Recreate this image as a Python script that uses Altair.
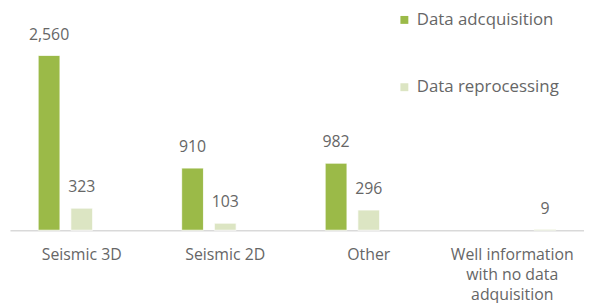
import altair as alt
import pandas as pd

categories = ["Seismic 3D", "Seismic 2D", "Other", "Well information\nwith no data\nadquisition"]
series_names = ["Data adcquisition", "Data reprocessing", "Well only"]
acquisition = [2560, 910, 982, None]
reprocessing = [323, 103, 296, None]
well_only = [None, None, None, 9]
colors = ["#9BBA48", "#DCE5C3", "#9BBA48"]

rows = []
for i, c in enumerate(categories):
    for s, vals in zip(series_names, [acquisition, reprocessing, well_only]):
        if vals[i] is not None:
            rows.append({"category": c, "series": s, "value": vals[i]})
df = pd.DataFrame(rows)

FONT = "Open Sans"
GRAY = "#666666"

x_enc = alt.X("category:N", sort=categories, title=None,
              scale=alt.Scale(paddingInner=0.317, paddingOuter=0.1585),
              axis=alt.Axis(domainColor="#D9D9D9", domainWidth=1.5, ticks=False,
                            labelAngle=0, labelFont=FONT, labelFontSize=16,
                            labelColor=GRAY, labelPadding=17, labelLineHeight=20,
                            labelExpr="split(datum.label, '\\n')"))
xo_enc = alt.XOffset("series:N", sort=series_names,
                     scale=alt.Scale(domain=series_names, paddingInner=0.333, paddingOuter=0.1665))
y_enc = alt.Y("value:Q", scale=alt.Scale(domain=[0, 3000]), axis=None)

bars = alt.Chart(df).mark_bar(stroke="white", strokeWidth=0.8).encode(
    x=x_enc, xOffset=xo_enc, y=y_enc,
    color=alt.Color("series:N", sort=series_names,
                    scale=alt.Scale(domain=series_names, range=colors),
                    legend=alt.Legend(title=None, orient="none", legendX=390, legendY=-14,
                                      values=["Data adcquisition", "Data reprocessing"],
                                      symbolType="square", symbolSize=64, symbolStrokeWidth=0,
                                      labelFont=FONT, labelFontSize=17,
                                      labelColor=GRAY,
                                      labelOffset=4, rowPadding=50, direction="vertical")),
)

labels = alt.Chart(df).mark_text(dy=-16, baseline="alphabetic", font=FONT, fontSize=16,
                                 color=GRAY).encode(
    x=x_enc, xOffset=xo_enc, y=y_enc,
    text=alt.Text("value:Q", format=","),
)

chart = (bars + labels).properties(
    width=580, height=207,
    autosize=alt.AutoSizeParams(type="none"),
    padding={"left": 2, "top": 16, "right": 0, "bottom": 72},
).configure_view(stroke=None)

chart.save("out.html", embed_options={"renderer": "svg", "actions": False})
